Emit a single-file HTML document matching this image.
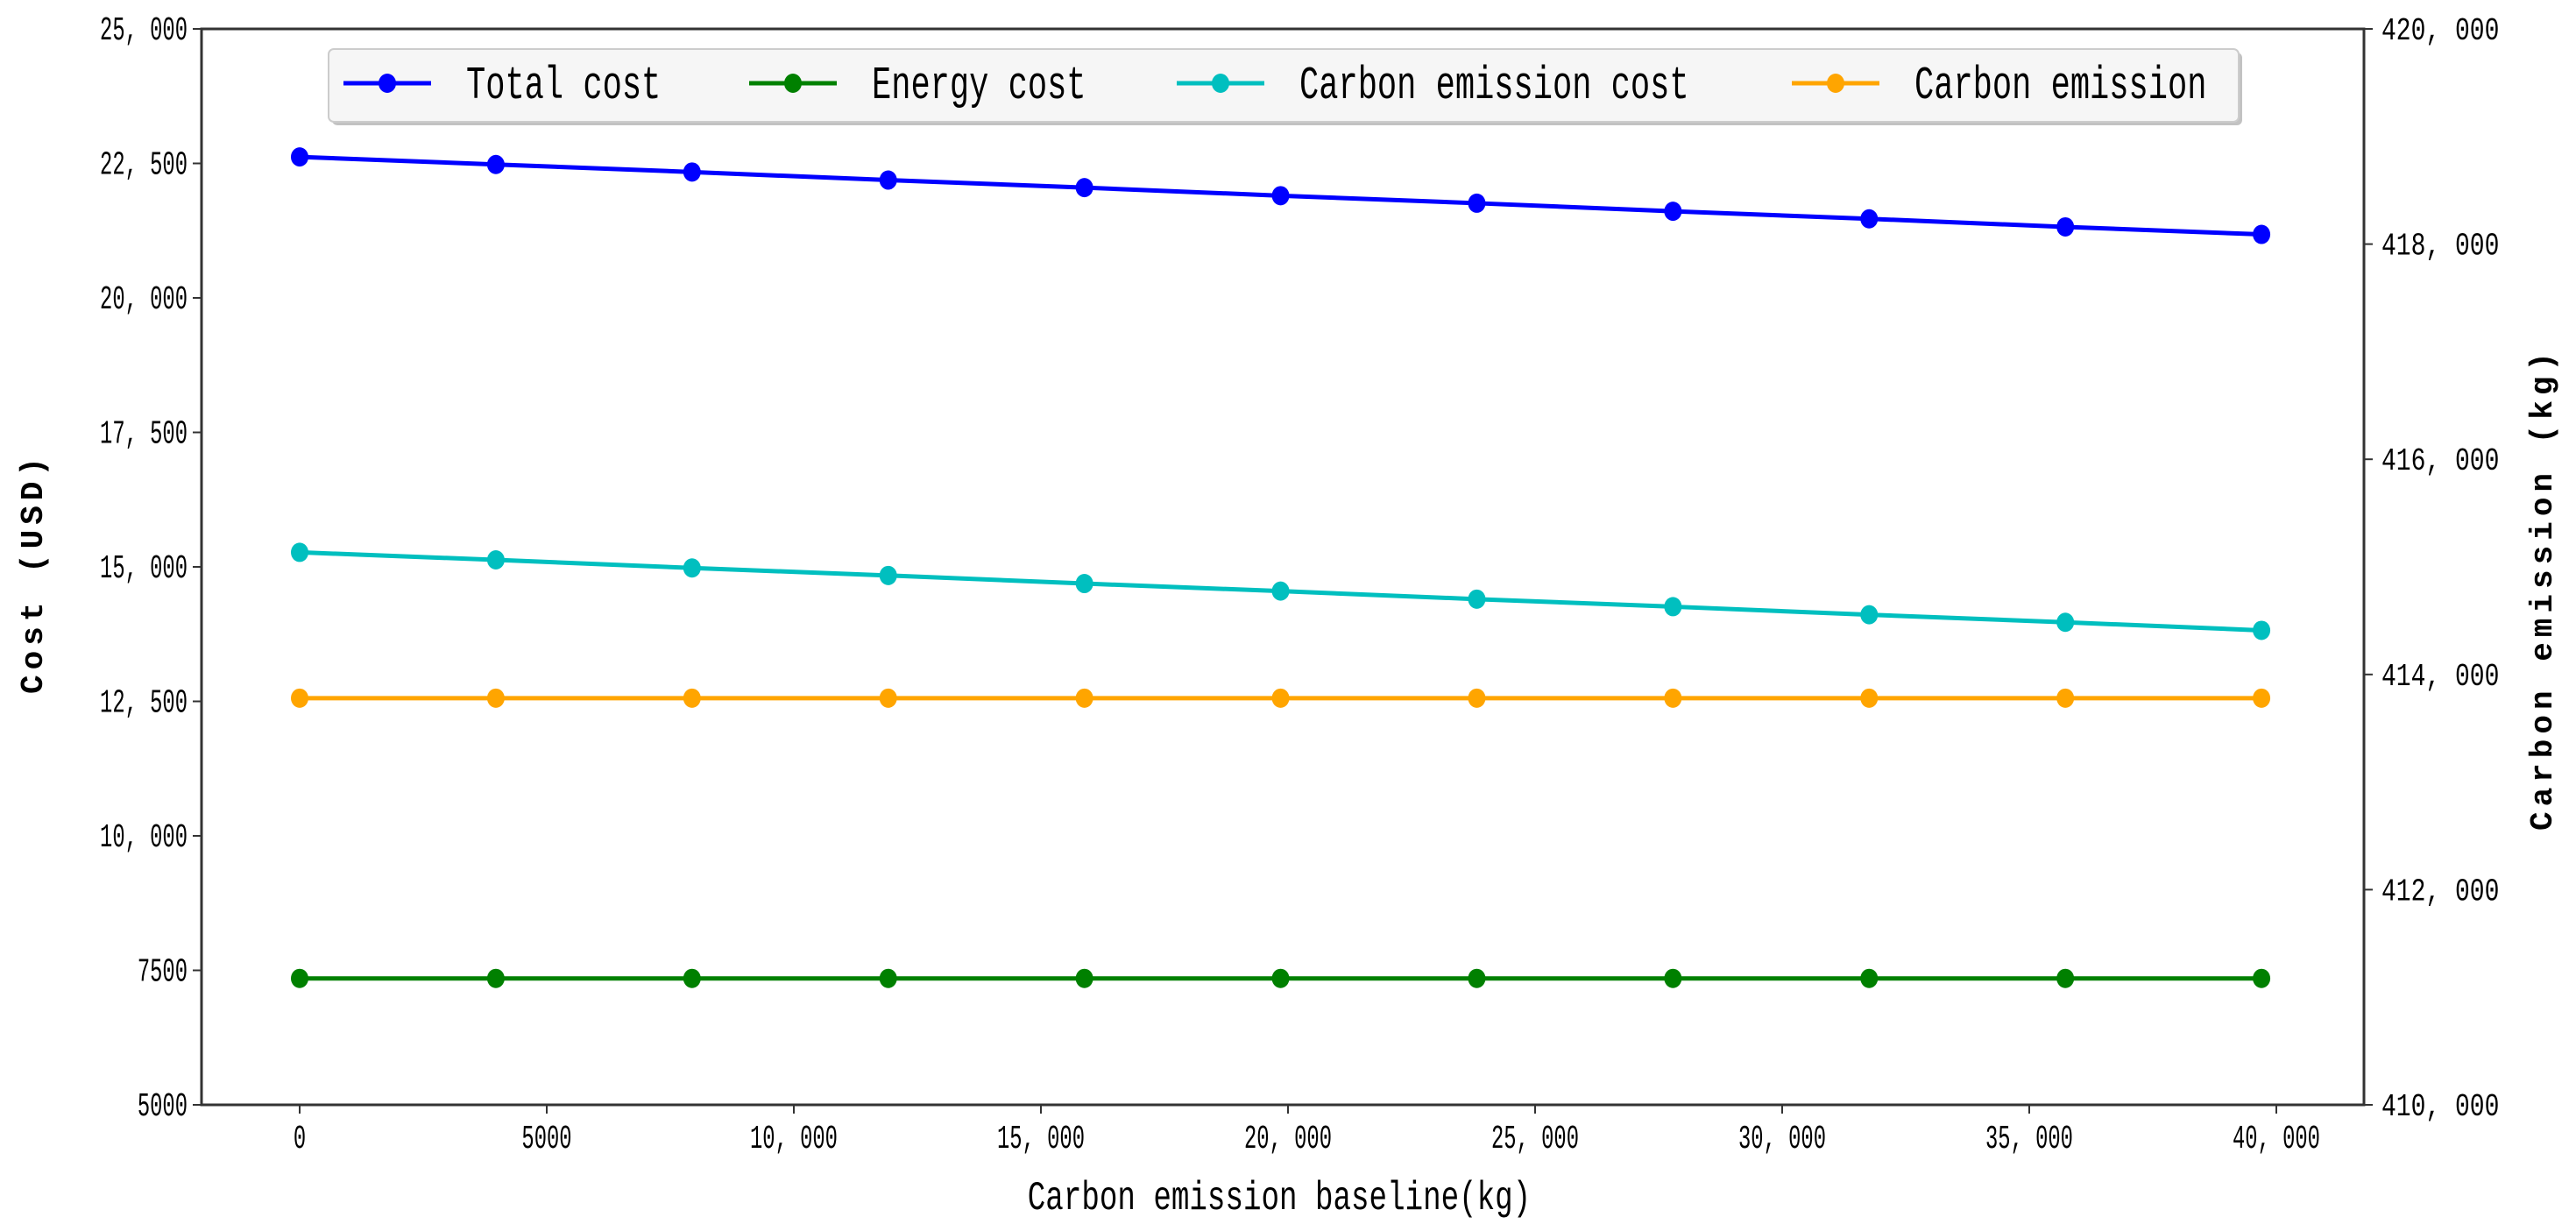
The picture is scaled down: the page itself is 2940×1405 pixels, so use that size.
<!DOCTYPE html>
<html><head><meta charset="utf-8">
<style>
html,body{margin:0;padding:0;background:#fff;}
svg{display:block;}
text{font-family:"Liberation Mono","Noto Sans CJK SC",monospace;fill:#000;}
</style></head>
<body>
<svg id="chart" width="2940" height="1405" xmlns="http://www.w3.org/2000/svg"></svg>
<script>
const xValues = [0, 3970, 7940, 11910, 15880, 19850, 23820, 27790, 31760, 35730, 39700];
const totalCost = [22620, 22480, 22340, 22190, 22050, 21900, 21760, 21610, 21470, 21320, 21180];
const energyCost = [7350, 7350, 7350, 7350, 7350, 7350, 7350, 7350, 7350, 7350, 7350];
const carbonCost = [15270, 15130, 14980, 14840, 14690, 14550, 14400, 14260, 14110, 13970, 13820];
const carbonEmission = [413780, 413780, 413780, 413780, 413780, 413780, 413780, 413780, 413780, 413780, 413780];
const xTicks = [0, 5000, 10000, 15000, 20000, 25000, 30000, 35000, 40000];
const xTickLabels = ["0", "5000", "10, 000", "15, 000", "20, 000", "25, 000", "30, 000", "35, 000", "40, 000"];
const yTicks = [5000, 7500, 10000, 12500, 15000, 17500, 20000, 22500, 25000];
const yTickLabels = ["5000", "7500", "10, 000", "12, 500", "15, 000", "17, 500", "20, 000", "22, 500", "25, 000"];
const y2Ticks = [410000, 412000, 414000, 416000, 418000, 420000];
const y2TickLabels = ["410, 000", "412, 000", "414, 000", "416, 000", "418, 000", "420, 000"];

const L = 230, R = 2698, T = 33, B = 1261;
const NS = "http://www.w3.org/2000/svg";
const svg = document.getElementById('chart');
function xs(v){ return 342 + (v - 0) * (282 / 5000); }
function ys(v){ return B - (v - 5000) * ((B - T) / 20000); }
function y2s(v){ return B - (v - 410000) * ((B - T) / 10000); }
function mk(tag, attrs, parent){
  const e = document.createElementNS(NS, tag);
  for (const k in attrs) e.setAttribute(k, attrs[k]);
  (parent || svg).appendChild(e);
  return e;
}
function txt(s, x, y, size, anchor, parent, sy, sx){
  sy = sy || 1.3; sx = sx || 1;
  const t = mk('text', {x: x / sx, y: y / sy, 'font-size': size, 'text-anchor': anchor, transform: 'scale(' + sx + ',' + sy + ')'}, parent);
  t.textContent = s;
  return t;
}

const frame = mk('rect', {x: L, y: T, width: R - L, height: B - T, fill: 'none', stroke: '#333', 'stroke-width': 3});



const gx = mk('g', {});


xTicks.forEach((v, i) => {
  mk('line', {x1: xs(v), x2: xs(v), y1: B, y2: B + 10, stroke: '#333', 'stroke-width': 2}, gx);
  txt(xTickLabels[i], xs(v), 1310, 28, 'middle', gx, 1.35, 0.85);
});
const gy = mk('g', {});


yTicks.forEach((v, i) => {
  mk('line', {x1: L - 10, x2: L, y1: ys(v), y2: ys(v), stroke: '#333', 'stroke-width': 2}, gy);
  txt(yTickLabels[i], L - 16, ys(v) + 12, 28, 'end', gy, 1.35, 0.85);
});
const gy2 = mk('g', {});


y2Ticks.forEach((v, i) => {
  mk('line', {x1: R, x2: R + 10, y1: y2s(v), y2: y2s(v), stroke: '#333', 'stroke-width': 2}, gy2);
  txt(y2TickLabels[i], R + 20, y2s(v) + 12, 28, 'start', gy2, 1.3, 1);
});

const xt = txt('Carbon emission baseline(kg)', 1460, 1380, 36, 'middle', null, 1.3, 0.95);


const gyl = mk('g', {transform: 'translate(48,654) rotate(-90)'});


const tl = txt('Cost (USD)', 0, 0, 36, 'middle', gyl, 1.0);
tl.setAttribute('letter-spacing', '6');
tl.setAttribute('font-weight', 'bold');
const gyr = mk('g', {transform: 'translate(2912,672) rotate(-90)'});


const tr = txt('Carbon emission (kg)', 0, 0, 36, 'middle', gyr, 1.0);
tr.setAttribute('letter-spacing', '6');
tr.setAttribute('font-weight', 'bold');

function series(name, vals, scale, color){
  const g = mk('g', {});
  
  
  const pts = vals.map((v, i) => xs(xValues[i]) + ',' + scale(v)).join(' ');
  mk('polyline', {points: pts, fill: 'none', stroke: color, 'stroke-width': 5}, g);
  vals.forEach((v, i) => {
    const c = mk('ellipse', {cx: xs(xValues[i]), cy: scale(v), rx: 10, ry: 11, fill: color}, g);
    
    
  });
}
series('total-cost-series', totalCost, ys, '#0000ff');
series('energy-cost-series', energyCost, ys, '#008000');
series('carbon-emission-cost-series', carbonCost, ys, '#00bfbf');
series('carbon-emission-series', carbonEmission, y2s, '#ffa500');

const lg = mk('g', {});


mk('rect', {x: 379, y: 60, width: 2180, height: 83, rx: 6, fill: '#999', opacity: 0.6}, lg);
mk('rect', {x: 375, y: 56, width: 2180, height: 83, rx: 6, fill: '#f6f6f6', stroke: '#ccc', 'stroke-width': 2}, lg);
const items = [['Total cost', '#0000ff', 392], ['Energy cost', '#008000', 855], ['Carbon emission cost', '#00bfbf', 1343], ['Carbon emission', '#ffa500', 2045]];
items.forEach(it => {
  const e = mk('g', {}, lg);
  
  
  mk('line', {x1: it[2], x2: it[2] + 100, y1: 95, y2: 95, stroke: it[1], 'stroke-width': 5}, e);
  mk('ellipse', {cx: it[2] + 50, cy: 95, rx: 10, ry: 11, fill: it[1]}, e);
  txt(it[0], it[2] + 140, 112, 39, 'start', e, 1.35, 0.95);
});
</script>
</body></html>
